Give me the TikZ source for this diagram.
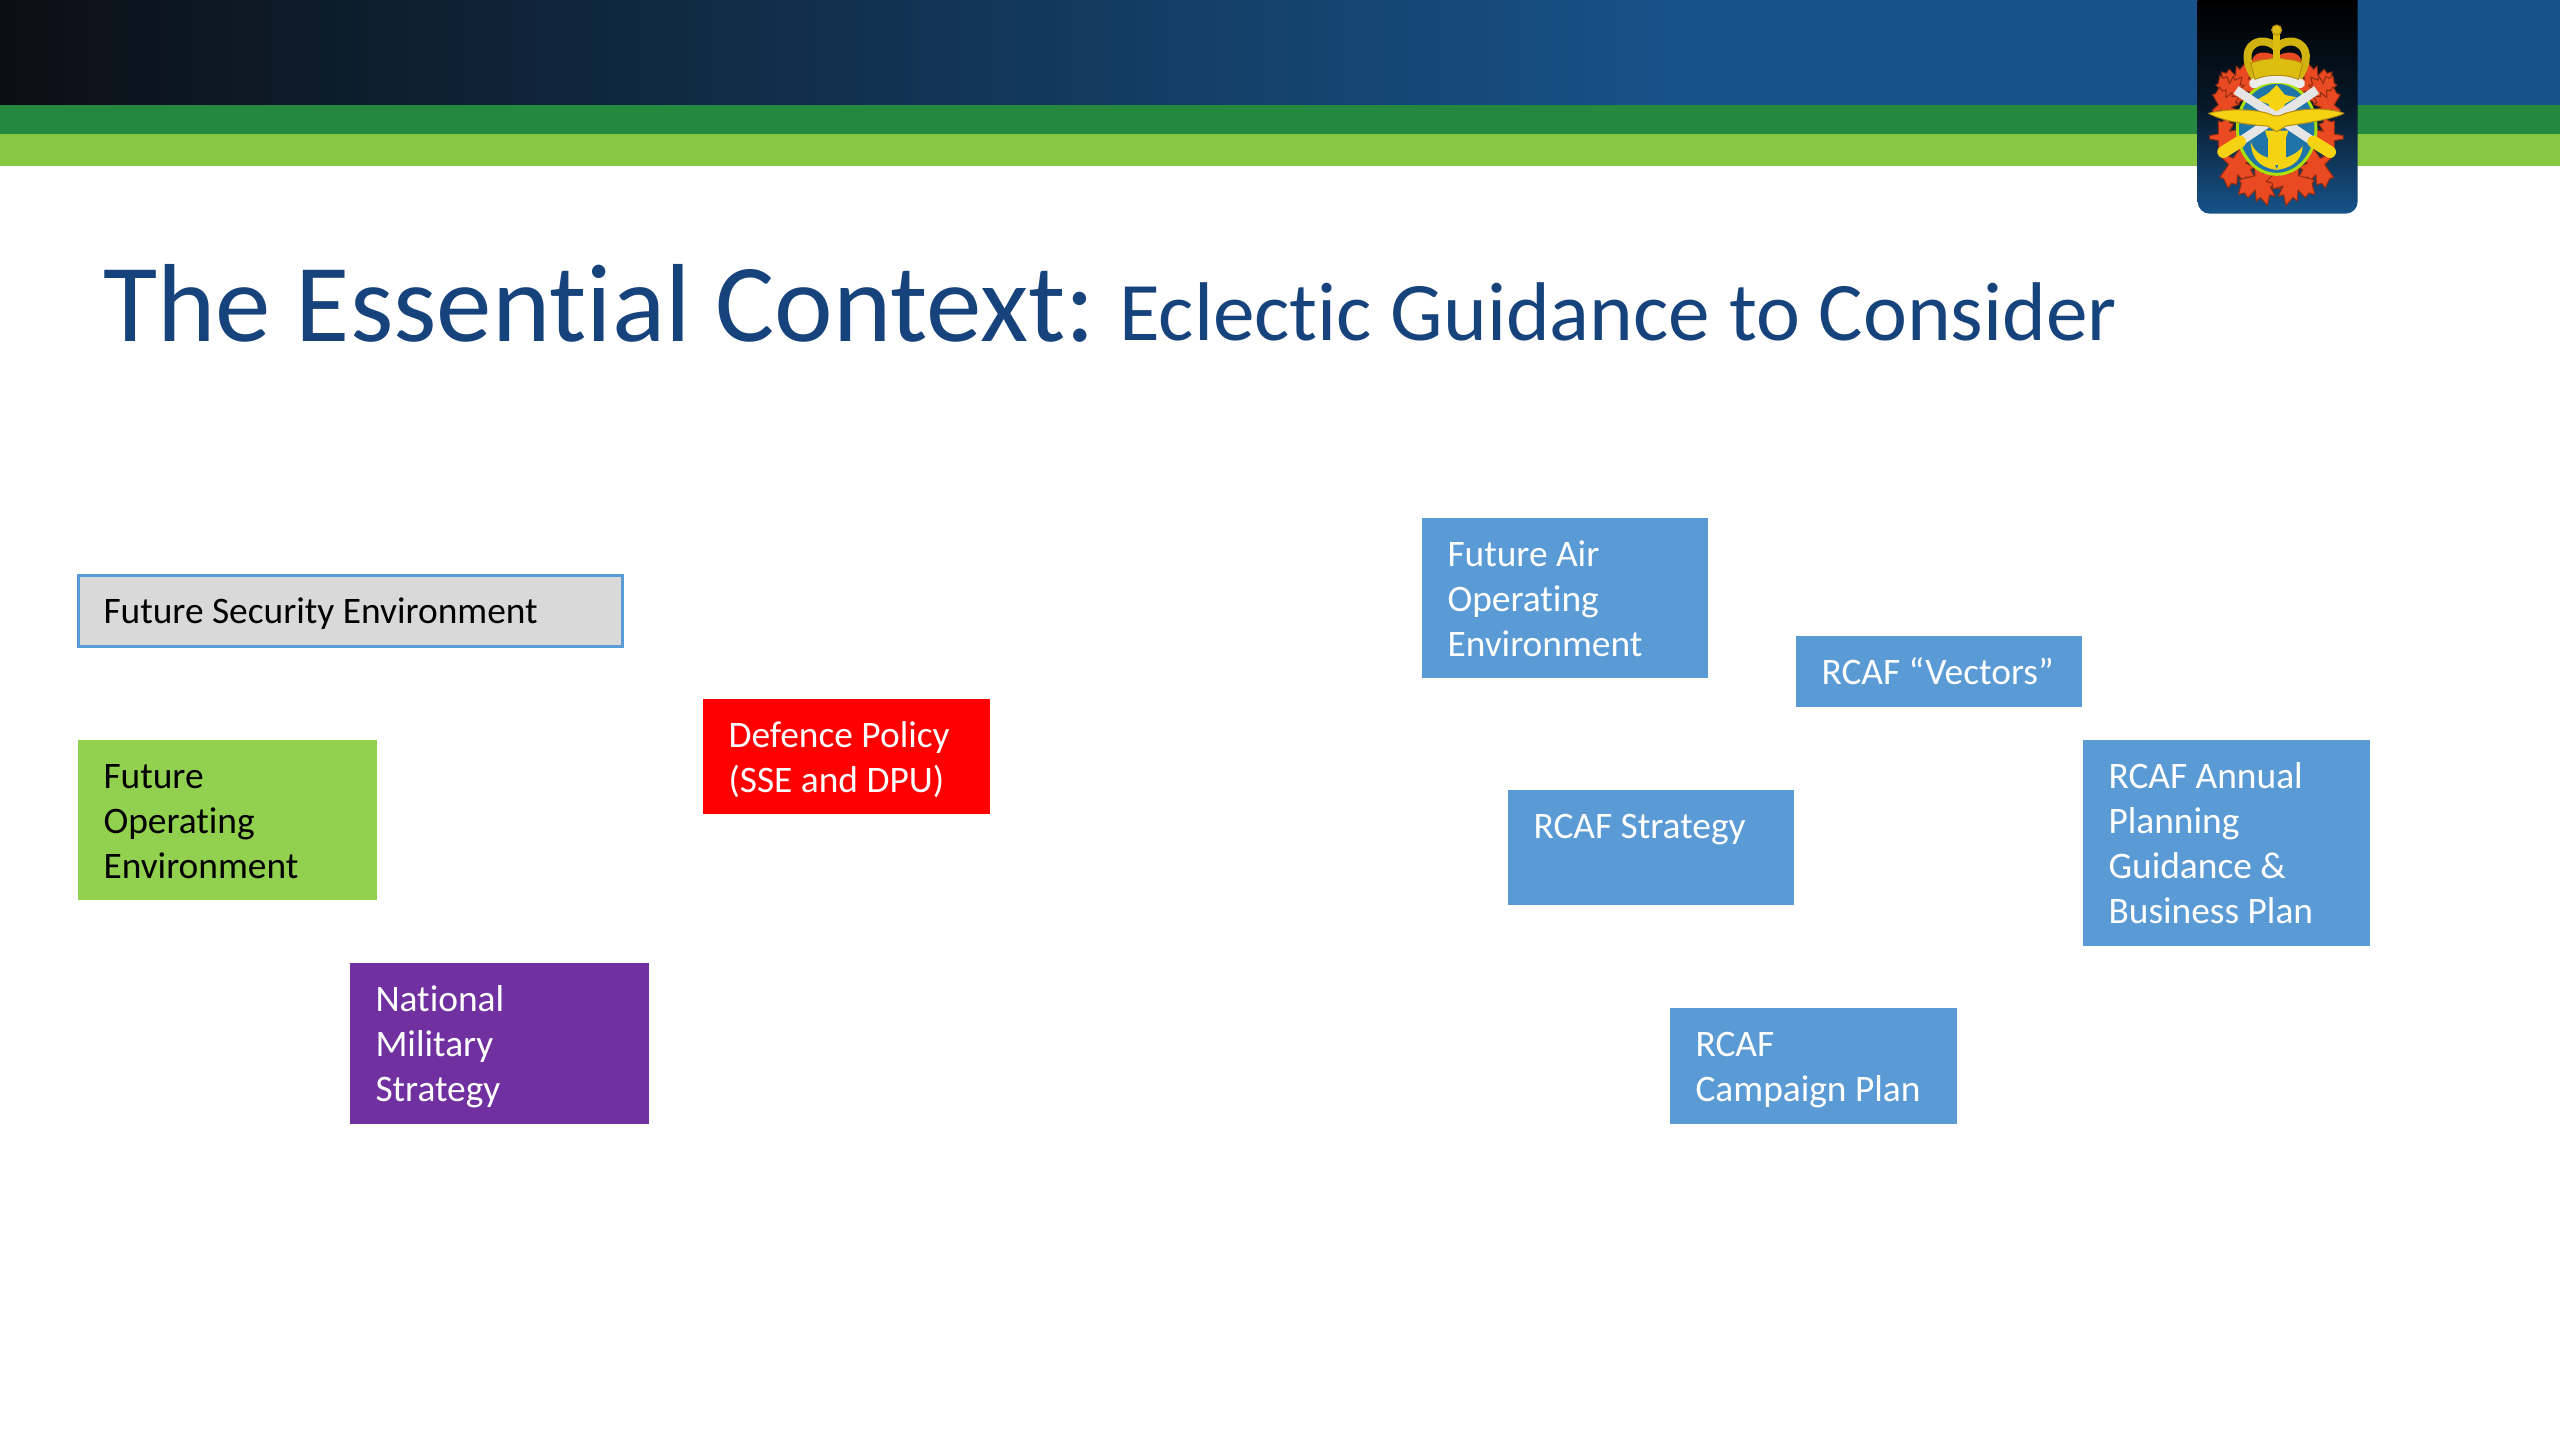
\documentclass[tikz,border=0pt]{standalone}
\usepackage{fontspec}
\setmainfont[Ligatures={NoCommon}]{Carlito}
\usetikzlibrary{calc}
\definecolor{hdrblack}{HTML}{0B0F14}
\definecolor{hdrblue}{HTML}{17538A}
\definecolor{dkgreen}{HTML}{24883F}
\definecolor{ltgreen}{HTML}{88C742}
\definecolor{titleblue}{HTML}{17437C}
\definecolor{boxblue}{HTML}{5B9BD5}
\definecolor{boxgreen}{HTML}{92D050}
\definecolor{boxpurple}{HTML}{7030A0}
\definecolor{boxgrey}{HTML}{D9D9D9}
\definecolor{gold}{HTML}{F6D312}
\definecolor{goldd}{HTML}{B58E10}
\definecolor{leaf}{HTML}{EA4A22}
\definecolor{ovalblue}{HTML}{1F74A8}
\tikzset{
  x=1pt,y=-1pt,
  infobox/.style={anchor=north west,inner xsep=25.5pt,inner ysep=0pt,outer sep=0pt,font=\fontsize{37.4}{45}\selectfont},
  titlebig/.style={anchor=base west,inner sep=0pt,text=titleblue,font=\fontsize{111}{120}\selectfont},
  titlesmall/.style={anchor=base west,inner sep=0pt,text=titleblue,font=\fontsize{83.3}{90}\selectfont},
  mapleleaf/.pic={
    \fill[leaf,draw=black!40!leaf,line width=1pt,line join=round]
      (0,-32) -- (7,-18) -- (14,-22) -- (11,-6) -- (24,-14) -- (27,-6) -- (36,-6) -- (28,8) -- (30,14) -- (6,14)
      -- (3,30) -- (-3,30) -- (-6,14) -- (-30,14) -- (-28,8) -- (-36,-6) -- (-27,-6) -- (-24,-14) -- (-11,-6) -- (-14,-22) -- (-7,-18) -- cycle;
  }
}
% name, x, y, w, h, fill, text colour, lines
\newcommand{\infob}[8]{%
  \node[infobox,fill=#6,text=#7] (#1) at (#2,#3)
    {\parbox[c][#5pt][t]{\dimexpr#4pt-51pt\relax}{\vspace{16.5pt}\raggedright\strut #8\strut}};%
}
\begin{document}
\begin{tikzpicture}
\useasboundingbox (0,0) rectangle (2560,1440);
\fill[white] (0,0) rectangle (2560,1440);
% header
\shade[left color=hdrblack,right color=hdrblue] (0,0) rectangle (1700,106);
\fill[hdrblue] (1699,0) rectangle (2560,106);
\fill[dkgreen] (0,105) rectangle (2560,134);
\fill[ltgreen] (0,134) rectangle (2560,166);
% emblem panel
\begin{scope}[shift={(2160,0)},scale=0.3333]
  \shade[top color=black,bottom color=hdrblue,middle color=black!70!hdrblue]
     (113,0) -- (593,0) -- (593,605) arc[start angle=0,end angle=90,radius=36] -- (149,641) arc[start angle=90,end angle=180,radius=36] -- cycle;
  % leaves
  \pic[rotate=-15,scale=.6] at (243,243) {mapleleaf};
  \pic[rotate=15,scale=.6] at (457,243) {mapleleaf};
  \pic[rotate=-40,scale=.5] at (215,268) {mapleleaf};
  \pic[rotate=40,scale=.5] at (483,268) {mapleleaf};
  \pic[rotate=-60,scale=.5] at (198,312) {mapleleaf};
  \pic[rotate=60,scale=.5] at (500,312) {mapleleaf};
  \pic[rotate=-90,scale=.55] at (198,412) {mapleleaf};
  \pic[rotate=90,scale=.55] at (500,412) {mapleleaf};
  \pic[rotate=-125,scale=.65] at (235,500) {mapleleaf};
  \pic[rotate=125,scale=.65] at (465,500) {mapleleaf};
  \pic[rotate=-165,scale=.7] at (305,552) {mapleleaf};
  \pic[rotate=165,scale=.7] at (395,552) {mapleleaf};
  % oval
  \fill[ovalblue,draw=gold!70!green,line width=3pt] (350,385) ellipse[x radius=118,y radius=138];
  % white band
  \draw[white!85!gray,line width=10pt,line cap=round] (282,250) .. controls (320,228) and (380,228) .. (420,250);
  % crown
  \fill[leaf] (275,200) .. controls (270,150) and (320,150) .. (350,170) .. controls (380,150) and (430,150) .. (425,200) -- cycle;
  \draw[gold!85!black,line width=8pt,line join=round] (285,232) .. controls (255,190) and (250,135) .. (300,125) .. controls (325,122) and (345,135) .. (350,145)
     .. controls (355,135) and (375,122) .. (400,125) .. controls (450,135) and (445,190) .. (415,232);
  \fill[gold!90!black,draw=goldd,line width=1pt] (272,190) .. controls (320,170) and (380,170) .. (428,190) -- (415,238) .. controls (380,222) and (320,222) .. (285,238) -- cycle;
  \fill[leaf] (285,178) -- (305,158) -- (330,178) -- cycle;
  \fill[leaf] (370,178) -- (395,158) -- (415,178) -- cycle;
  \fill[gold!90!black] (340,100) rectangle (360,225);
  \fill[gold!90!black,draw=goldd,line width=1pt] (350,90) circle[radius=15];
  % crest at oval top
  \fill[gold] (350,255) -- (375,285) -- (410,292) -- (375,312) -- (365,340) -- (335,340) -- (325,312) -- (290,300) -- (325,280) -- cycle;
  % swords
  \draw[white!80!gray,line width=9pt] (228,270) -- (460,425);
  \draw[white!80!gray,line width=9pt] (470,270) -- (240,425);
  \draw[gold,line width=12pt,line cap=round] (190,456) -- (240,425);
  \draw[gold,line width=12pt,line cap=round] (510,456) -- (460,425);
  % anchor
  \draw[gold,line width=18pt] (350,395) -- (350,495);
  \fill[gold] (315,392) -- (385,392) -- (378,414) -- (322,414) -- cycle;
  \fill[gold] (272,425) .. controls (285,465) and (320,472) .. (340,478) -- (350,510) -- (360,478) .. controls (385,472) and (415,460) .. (428,438)
     .. controls (425,490) and (385,505) .. (350,510) .. controls (315,505) and (275,490) .. (272,425) -- cycle;
  % wings
  \fill[gold,draw=goldd,line width=1pt,line join=round]
    (146,340) .. controls (200,325) and (300,325) .. (342,348) -- (358,348) .. controls (400,325) and (500,320) .. (552,340)
    .. controls (510,360) and (430,370) .. (378,378) -- (350,395) -- (322,378) .. controls (270,375) and (190,365) .. (146,340) -- cycle;
\end{scope}
% title
\node[titlebig] (title) at (103,341) {The Essential Context:};
\node[titlesmall] (subtitle) at (1119,340) {Eclectic Guidance to Consider};
% boxes
\infob{fse}{78}{575}{544}{71}{boxgrey}{black}{Future Security Environment}
\draw[boxblue,line width=3pt] (fse.north west) rectangle (fse.south east);
\infob{foe}{78}{740}{299}{160}{boxgreen}{black}{Future\\Operating\\Environment}
\infob{dp}{703}{699}{287}{115}{red}{white}{Defence Policy\\(SSE and DPU)}
\infob{nms}{350}{963}{299}{161}{boxpurple}{white}{National\\Military\\Strategy}
\infob{faoe}{1422}{518}{286}{160}{boxblue}{white}{Future Air\\Operating\\Environment}
\infob{vec}{1796}{636}{286}{71}{boxblue}{white}{RCAF “Vectors”}
\infob{strat}{1508}{790}{286}{115}{boxblue}{white}{RCAF Strategy}
\infob{apg}{2083}{740}{287}{206}{boxblue}{white}{RCAF Annual\\Planning\\Guidance \&\\Business Plan}
\infob{camp}{1670}{1008}{287}{116}{boxblue}{white}{RCAF\\Campaign Plan}
\end{tikzpicture}
\end{document}
